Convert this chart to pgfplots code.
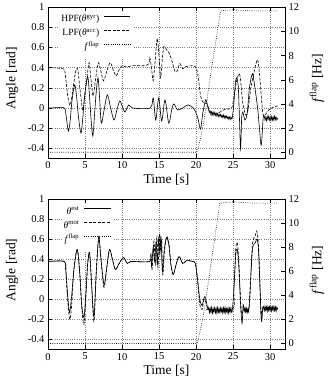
\documentclass[border=0pt]{standalone}
\usepackage{pgfplots}
\pgfplotsset{compat=1.18}
\usepackage{fontspec}
\setmainfont{Liberation Serif}
\newcommand{\tht}{\textit{θ}}
\pgfplotsset{
  layers/mine/.define layer set={axis background,axis grid,axis ticks,axis lines,axis tick labels,pre main,main,axis descriptions,axis foreground}{
    grid style={/pgfplots/on layer=axis grid},
    tick style={/pgfplots/on layer=axis ticks},
    axis line style={/pgfplots/on layer=axis lines},
    label style={/pgfplots/on layer=axis descriptions},
    legend style={/pgfplots/on layer=axis grid},
    title style={/pgfplots/on layer=axis descriptions},
    colorbar style={/pgfplots/on layer=axis descriptions},
    ticklabel style={/pgfplots/on layer=axis tick labels},
    axis background@ style={/pgfplots/on layer=axis background},
    3d box foreground style={/pgfplots/on layer=axis foreground},
  },
  base/.style={scale only axis, width=237pt, xmin=0, xmax=32,
    axis line style={line width=0.6pt},
    every tick/.style={line width=0.5pt, black},
    tick label style={font=\fontsize{10.5}{12}\selectfont},
    label style={font=\fontsize{13.5}{16}\selectfont},
    /pgf/number format/assume math mode=true,
  },
  leftax/.style={base, set layers=mine, ymin=-0.5, ymax=1,
    ytick={-0.4,-0.2,0,0.2,0.4,0.6,0.8,1},
    yticklabels={-0.4,-0.2,0,0.2,0.4,0.6,0.8,1},
    xtick={0,5,...,30}, ytick pos=left, xticklabel pos=lower,
    tick align=inside, major tick length=4pt,
    xmajorgrids, ymajorgrids,
    grid style={gray, line width=0.5pt, dash pattern=on 0.6pt off 1.6pt},
    xlabel={Time [s]}, ylabel={Angle [rad]},
    xlabel style={at={(axis description cs:0.5,-0.143)}, anchor=center},
    ylabel style={at={(axis description cs:-0.151,0.53)}, anchor=center},
    legend cell align=right, legend plot pos=right,
    legend image code/.code={\draw[##1] (0pt,3pt) -- (26.5pt,3pt);},
  },
  rightax/.style={base, ymin=-0.5, ymax=12, axis x line=none, axis y line*=right,
    xtick=\empty, ytick={0,2,4,6,8,10,12},
    tick align=inside, major tick length=4pt,
    ylabel={\textit{f}\textsuperscript{flap} [Hz]},
    ylabel style={at={(axis description cs:1.135,0.53)}, anchor=center},
  },
  lsty/.style={legend style={draw=none, fill=white, inner xsep=2pt, inner ysep=6.5pt,
    row sep=4pt, column sep=4.5pt, font=\fontsize{9.5}{11}\selectfont,
    nodes={inner sep=0pt, text height=8pt, text depth=2pt}, anchor=north east}},
  solidl/.style={black, line width=0.6pt, smooth, tension=0.5},
  dashl/.style={black, line width=0.6pt, dash pattern=on 3pt off 1.5pt, smooth, tension=0.5},
  dotl/.style={black, line width=0.6pt, dash pattern=on 0.7pt off 1.5pt},
}
\begin{document}
\begin{tikzpicture}
% ================= TOP PANEL =================
\begin{axis}[leftax, lsty, height=151pt, at={(48pt,218.7pt)}, anchor=south west,
  legend style={at={(axis description cs:0.3586,1)}}]
\addplot[solidl] coordinates {
(0,0)(1,0.002)(2.2,0)(2.45,-0.08)(2.75,-0.23)(3.0,-0.12)(3.25,0.08)(3.6,0.23)(3.85,0.12)(4.1,-0.08)(4.45,-0.25)(4.7,-0.1)(4.95,0.12)(5.35,0.31)(5.55,0.18)(5.8,-0.1)(6.05,-0.28)(6.3,-0.05)(6.5,0.15)(6.75,0.30)(6.95,0.12)(7.2,-0.15)(7.55,-0.03)(8.0,0.13)(8.4,0.02)(8.9,-0.12)(9.3,-0.02)(9.7,0.07)(10.1,0.0)(10.4,-0.04)(10.9,0.03)(11.4,0.0)(13.8,0.0)(14.2,0.1)(14.55,-0.12)(14.95,0.1)(15.35,-0.13)(15.8,0.08)(16.3,-0.15)(16.7,-0.02)(17.0,0.04)(17.5,-0.02)(18.2,0.0)(18.9,0.03)(19.6,0.0)(20.0,-0.05)(20.3,-0.12)(20.6,-0.21)(20.9,-0.05)(21.3,0.08)(21.6,0.0)(21.8,-0.04)
(21.9,-0.03)(22.0,-0.06)(22.1,-0.035)(22.2,-0.065)(22.3,-0.04)(22.4,-0.07)(22.5,-0.045)(22.6,-0.075)(22.7,-0.05)(22.8,-0.08)(22.9,-0.055)(23.0,-0.085)(23.1,-0.06)(23.2,-0.085)(23.3,-0.065)(23.4,-0.09)(23.5,-0.07)(23.6,-0.095)(23.7,-0.07)(23.8,-0.1)(23.9,-0.075)(24.0,-0.1)(24.1,-0.08)(24.2,-0.105)(24.3,-0.085)(24.4,-0.11)(24.5,-0.09)(24.6,-0.115)(24.7,-0.09)(24.8,-0.11)
(24.9,-0.09)(25.1,0.05)(25.3,0.25)(25.5,0.30)(25.7,0.2)(25.85,-0.1)(26.0,-0.41)(26.15,-0.1)(26.3,-0.04)(26.6,-0.12)(26.9,-0.05)(27.2,0.2)(27.6,0.34)(27.9,0.22)(28.3,0.0)(28.55,-0.2)(28.8,-0.37)(29.05,-0.1)
(29.2,-0.08)(29.3,-0.12)(29.4,-0.09)(29.5,-0.125)(29.6,-0.085)(29.7,-0.115)(29.8,-0.08)(29.9,-0.12)(30.0,-0.09)(30.1,-0.125)(30.2,-0.085)(30.3,-0.12)(30.4,-0.09)(30.5,-0.125)(30.6,-0.08)(30.7,-0.115)(30.8,-0.09)(30.9,-0.12)(31.0,-0.1)
};
\addlegendentry{HPF(\tht\textsuperscript{gyr})}
\addplot[dashl] coordinates {
(0,0.40)(2.0,0.39)(2.3,0.35)(2.7,0.1)(3.0,0.03)(3.3,0.15)(3.7,0.35)(4.0,0.39)(4.3,0.2)(4.7,-0.02)(5.0,0.15)(5.3,0.32)(5.55,0.45)(5.85,0.25)(6.1,0.12)(6.45,0.3)(6.8,0.45)(7.1,0.38)(7.5,0.27)(8.0,0.38)(8.4,0.45)(8.8,0.38)(9.2,0.32)(9.6,0.38)(10.0,0.42)(10.4,0.41)(10.8,0.41)(11.5,0.42)(13.0,0.42)(13.6,0.44)(13.75,0.5)(14.0,0.38)(14.2,0.27)(14.45,0.45)(14.75,0.69)(15.0,0.5)(15.2,0.3)(15.45,0.5)(15.65,0.61)(16.0,0.58)(16.4,0.54)(16.8,0.45)(17.1,0.37)(17.4,0.36)(17.8,0.44)(18.2,0.39)(18.6,0.41)(19.5,0.42)(20.0,0.40)(20.3,0.3)(20.6,0.12)(21.0,0.05)(21.5,0.04)(21.9,-0.06)(22.3,-0.07)(23.0,-0.05)(24.0,-0.01)(24.8,0.0)(25.2,0.15)(25.5,0.28)(25.8,0.34)(26.0,0.28)(26.3,0.05)(26.7,-0.07)(27.0,-0.02)(27.4,0.2)(27.8,0.35)(28.3,0.48)(28.6,0.3)(29.0,-0.05)(29.3,-0.07)(29.8,-0.02)(30.5,0.01)(31,0.02)
};
\addlegendentry{LPF(\tht\textsuperscript{acc})}
\addlegendimage{dotl}
\addlegendentry{\textit{f}\textsuperscript{flap}}
\end{axis}
\begin{axis}[rightax, height=151pt, at={(48pt,218.7pt)}, anchor=south west]
\addplot[dotl] coordinates {
(0,0)(20.1,0)(20.5,0.9)(21.0,2.4)(22.0,6.6)(23.3,11.7)(24,11.75)(25,11.8)(26,11.75)(28,11.7)(31,11.7)
};
\end{axis}
% ================= BOTTOM PANEL =================
\begin{axis}[leftax, lsty, height=150pt, at={(48pt,27.5pt)}, anchor=south west,
  legend style={at={(axis description cs:0.2743,1)}}]
\addplot[solidl] coordinates {
(0,0.38)(2.2,0.38)(2.4,0.3)(2.65,0.05)(2.9,-0.13)(3.15,0.0)(3.5,0.3)(3.95,0.5)(4.3,0.25)(4.55,-0.05)(4.85,-0.18)(5.1,0.05)(5.35,0.35)(5.6,0.47)(5.85,0.2)(6.2,-0.17)(6.5,0.25)(6.85,0.63)(7.1,0.45)(7.55,0.15)(7.9,0.3)(8.3,0.5)(8.7,0.4)(9.1,0.3)(9.6,0.36)(10.2,0.42)(10.7,0.36)(11.2,0.38)(13.7,0.38)(13.85,0.45)(14.0,0.33)(14.2,0.52)(14.4,0.38)(14.6,0.58)(14.75,0.35)(14.95,0.62)(15.1,0.45)(15.25,0.63)(15.45,0.28)(15.7,0.5)(16.0,0.62)(16.3,0.55)(16.6,0.35)(16.9,0.25)(17.3,0.35)(17.7,0.43)(18.2,0.36)(18.7,0.39)(19.5,0.38)(19.9,0.36)(20.2,0.2)(20.5,0.0)(20.8,-0.06)(21.0,0.0)(21.2,0.03)(21.4,-0.03)(21.6,-0.1)
(21.7,-0.08)(21.8,-0.135)(21.9,-0.085)(22.0,-0.13)(22.1,-0.075)(22.2,-0.14)(22.3,-0.09)(22.4,-0.125)(22.5,-0.08)(22.6,-0.135)(22.7,-0.085)(22.8,-0.14)(22.9,-0.075)(23.0,-0.13)(23.1,-0.09)(23.2,-0.135)(23.3,-0.08)(23.4,-0.125)(23.5,-0.085)(23.6,-0.14)(23.7,-0.08)(23.8,-0.13)(23.9,-0.075)(24.0,-0.135)(24.1,-0.09)(24.2,-0.13)(24.3,-0.08)(24.4,-0.14)(24.5,-0.085)(24.6,-0.125)(24.7,-0.08)(24.8,-0.13)(24.9,-0.1)
(25.1,0.1)(25.35,0.45)(25.55,0.5)(25.75,0.35)(26.0,-0.05)(26.2,-0.24)(26.35,-0.05)
(26.5,-0.12)(26.6,-0.08)(26.7,-0.13)(26.8,-0.085)(26.9,-0.135)(27.0,-0.09)(27.1,-0.12)
(27.3,0.1)(27.6,0.5)(28.0,0.57)(28.25,0.6)(28.45,0.45)(28.8,-0.2)(29.0,-0.08)
(29.1,-0.07)(29.2,-0.115)(29.3,-0.065)(29.4,-0.11)(29.5,-0.07)(29.6,-0.12)(29.7,-0.065)(29.8,-0.115)(29.9,-0.07)(30.0,-0.11)(30.1,-0.065)(30.2,-0.12)(30.3,-0.07)(30.4,-0.11)(30.5,-0.065)(30.6,-0.115)(30.7,-0.07)(30.8,-0.12)(30.9,-0.075)(31.0,-0.1)
};
\addlegendentry{\tht\textsuperscript{est}}
\addplot[dashl] coordinates {
(0,0.38)(2.2,0.38)(2.4,0.28)(2.65,0.0)(2.95,-0.2)(3.2,-0.05)(3.5,0.3)(3.95,0.5)(4.3,0.25)(4.55,-0.08)(4.85,-0.25)(5.1,0.0)(5.35,0.35)(5.6,0.47)(5.85,0.2)(6.2,-0.22)(6.5,0.25)(6.85,0.62)(7.1,0.45)(7.55,0.12)(7.9,0.3)(8.3,0.5)(8.7,0.4)(9.1,0.3)(9.6,0.36)(10.2,0.42)(10.7,0.36)(11.2,0.38)(13.7,0.38)(13.9,0.46)(14.05,0.3)(14.3,0.58)(14.5,0.35)(14.7,0.62)(14.85,0.32)(15.05,0.66)(15.2,0.5)(15.35,0.6)(15.5,0.25)(15.75,0.5)(16.05,0.63)(16.35,0.55)(16.6,0.35)(16.9,0.25)(17.3,0.35)(17.7,0.43)(18.2,0.36)(18.7,0.39)(19.5,0.38)(19.9,0.36)(20.2,0.18)(20.5,-0.05)(20.8,-0.1)(21.0,-0.02)(21.2,0.0)(21.5,-0.08)(21.6,-0.1)(24.9,-0.1)(25.1,0.1)(25.35,0.5)(25.55,0.57)(25.75,0.4)(26.0,0.0)(26.15,-0.15)(26.4,-0.1)(27.1,-0.1)(27.3,0.1)(27.6,0.55)(28.0,0.64)(28.2,0.68)(28.45,0.5)(28.8,-0.2)(29.0,-0.09)(31,-0.09)
};
\addlegendentry{\tht\textsuperscript{mot}}
\addlegendimage{dotl}
\addlegendentry{\textit{f}\textsuperscript{flap}}
\end{axis}
\begin{axis}[rightax, height=150pt, at={(48pt,27.5pt)}, anchor=south west]
\addplot[dotl] coordinates {
(0,0)(20.1,0)(20.5,0.9)(21.0,2.4)(22.0,6.6)(23.2,11.7)(24,11.75)(25,11.8)(26,11.75)(28,11.7)(31,11.7)
};
\end{axis}
\pgfresetboundingbox
\useasboundingbox (0,0) rectangle (329pt,377pt);
\end{tikzpicture}
\end{document}
